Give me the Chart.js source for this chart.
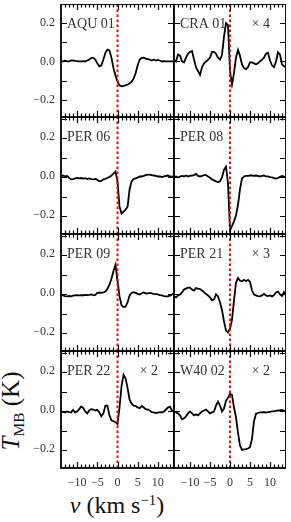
<!DOCTYPE html>
<html lang="en">
<head>
    <meta charset="UTF-8">
    <title>Spectra grid</title>
    <script src="https://cdn.jsdelivr.net/npm/chart.js"></script>
    <style>
        body { margin: 0; background: #fff; }
        #wrap { position: relative; width: 291px; height: 522px; overflow: hidden; }
        #wrap canvas { position: absolute; }
        .title { position: absolute; font-family: 'Liberation Serif', serif; color: #111; white-space: nowrap; }
        .sub { font-size: 0.62em; position: relative; top: 0.3em; }
        .sup { font-size: 0.62em; position: relative; top: -0.55em; }
    </style>
</head>
<body>
<div id="wrap">
    <div class="title" id="ytitle" style="left:11px; top:411px; font-size:25px; transform: translate(-50%, -50%) rotate(-90deg);"><i>T</i><span class="sub">MB</span> (K)</div>
    <div class="title" id="xtitle" style="left:117px; top:505px; font-size:24px; transform: translate(-50%, -50%);"><i>v</i> (km s<span class="sup">&minus;1</span>)</div>
</div>
<script>
    // velocity channels (km/s)
    const vel = [-14, -13.5, -13, -12.5, -12, -11.5, -11, -10.5, -10, -9.5, -9, -8.5, -8, -7.5, -7, -6.5, -6, -5.5, -5,
        -4.5, -4, -3.5, -3, -2.5, -2, -1.5, -1, -0.5, 0, 0.5, 1, 1.5, 2, 2.5, 3, 3.5, 4, 4.5, 5,
        5.5, 6, 6.5, 7, 7.5, 8, 8.5, 9, 9.5, 10, 10.5, 11, 11.5, 12, 12.5, 13, 13.5, 14];

    // T_MB (K), already scaled as plotted
    const aqu01 = [0.0, 0.0, 0.005, 0.0, 0.0, 0.005, 0.005, 0.003, 0.002,
        0.0, 0.0, 0.002, 0.0, 0.005, 0.01, 0.018, 0.02, 0.01, -0.01,
        -0.025, -0.02, 0.01, 0.045, 0.062, 0.058, 0.02, -0.035, -0.075, -0.105,
        -0.125, -0.13, -0.128, -0.125, -0.12, -0.115, -0.105, -0.09, -0.06, -0.02,
        0.01, 0.018, 0.02, 0.015, 0.012, 0.01, 0.005, 0.01, 0.005, 0.008,
        0.005, 0.0, 0.002, 0.0, 0.0, 0.0, 0.0, 0.0];
    const cra01 = [0.005, 0.0, 0.036, 0.03, 0.0, -0.005, 0.02, 0.04, 0.05,
        0.055, 0.01, -0.03, -0.05, -0.07, -0.03, -0.01, 0.0, 0.008, 0.02,
        0.05, 0.05, 0.04, 0.02, 0.01, 0.035, 0.13, 0.2, 0.19, -0.05,
        -0.12, -0.06, 0.02, 0.06, 0.03, -0.015, -0.035, -0.04, -0.03, -0.005,
        -0.005, -0.01, -0.015, -0.01, 0.0, 0.01, 0.02, 0.04, 0.045, 0.005,
        -0.02, -0.03, 0.0, 0.048, 0.036, -0.015, -0.025, -0.03];
    const per06 = [0.005, 0.01, 0.005, 0.008, -0.002, -0.01, -0.008, -0.005, -0.002,
        -0.005, -0.003, -0.006, -0.004, -0.008, -0.005, -0.008, -0.01, -0.008, -0.012,
        -0.02, -0.018, -0.01, -0.008, -0.002, 0.002, 0.01, 0.02, 0.03, -0.02,
        -0.15, -0.185, -0.175, -0.165, -0.15, -0.06, -0.02, -0.008, -0.005, 0.0,
        0.005, 0.005, 0.008, 0.012, 0.015, 0.015, 0.012, 0.01, 0.008, 0.005,
        0.005, 0.002, 0.005, 0.008, 0.01, 0.005, 0.003, 0.008];
    const per08 = [0.003, 0.005, 0.0, 0.005, 0.008, 0.005, 0.01, 0.005, 0.008,
        0.01, 0.012, 0.018, 0.008, 0.005, 0.008, 0.012, 0.012, 0.005, -0.002,
        -0.01, -0.015, -0.02, -0.025, -0.02, 0.0, 0.04, 0.055, -0.03, -0.27,
        -0.25, -0.225, -0.195, -0.14, -0.06, -0.005, 0.005, 0.008, 0.008, 0.01,
        0.01, 0.008, 0.01, 0.008, 0.005, 0.008, 0.01, 0.006, 0.005, 0.002,
        0.0, -0.003, -0.006, -0.003, 0.003, 0.008, 0.005, 0.0];
    const per09 = [0.0, -0.005, -0.008, -0.01, -0.008, -0.01, -0.006, -0.005, -0.004,
        -0.005, -0.003, -0.004, -0.002, -0.003, -0.002, 0.0, -0.004, -0.002, 0.008,
        0.01, 0.008, 0.01, 0.015, 0.028, 0.05, 0.08, 0.12, 0.152, 0.07,
        -0.01, -0.055, -0.065, -0.063, -0.04, -0.005, 0.008, 0.012, 0.008, 0.003,
        0.0, 0.006, 0.01, 0.005, 0.006, 0.008, 0.005, 0.003, 0.002, 0.0,
        -0.003, -0.005, -0.008, -0.01, -0.01, -0.006, 0.0, 0.008];
    const per21 = [-0.01, -0.015, -0.005, 0.0, 0.01, 0.025, 0.03, 0.035, 0.035,
        0.025, 0.02, 0.033, 0.03, 0.028, 0.02, 0.012, 0.002, -0.005, -0.015,
        -0.03, -0.025, 0.0, -0.01, -0.04, -0.08, -0.138, -0.185, -0.195, -0.175,
        -0.13, -0.03, 0.06, 0.085, 0.07, 0.068, 0.075, 0.068, 0.075, 0.065,
        0.02, 0.0, -0.005, -0.008, -0.01, -0.005, 0.003, -0.005, -0.008, -0.005,
        -0.01, -0.003, 0.01, 0.015, 0.0, -0.008, 0.012, -0.005];
    const per22 = [0.0, -0.002, -0.005, 0.0, -0.003, -0.005, 0.008, -0.005, 0.0,
        0.012, 0.025, 0.018, 0.0, -0.01, 0.005, 0.012, 0.01, 0.005, 0.008,
        -0.005, -0.025, -0.01, 0.03, 0.03, -0.02, -0.045, -0.05, -0.055, -0.065,
        0.02, 0.13, 0.188, 0.17, 0.12, 0.06, 0.04, 0.03, 0.028, 0.02,
        0.017, 0.028, 0.02, 0.012, 0.01, 0.005, -0.004, -0.005, -0.008, -0.006,
        -0.004, -0.005, 0.0, 0.01, 0.02, 0.025, 0.005, 0.0];
    const w4002 = [0.0, -0.005, -0.01, -0.02, -0.04, -0.035, -0.025, -0.01, 0.0,
        -0.01, -0.02, -0.015, -0.02, -0.01, 0.0, 0.005, 0.01, 0.0, -0.01,
        -0.005, 0.0, 0.03, 0.05, 0.03, 0.0, 0.015, 0.055, 0.07, 0.09,
        0.085, 0.02, -0.03, -0.11, -0.175, -0.197, -0.195, -0.193, -0.19, -0.183,
        -0.14, -0.05, -0.012, -0.008, -0.005, -0.005, -0.003, -0.006, -0.004, -0.002,
        0.0, 0.0, 0.003, 0.005, 0.005, 0.008, 0.005, 0.0];

    const names = ['AQU 01', 'CRA 01', 'PER 06', 'PER 08', 'PER 09', 'PER 21', 'PER 22', 'W40 02'];
    const factors = ['', '\u00d7 4', '', '', '', '\u00d7 3', '\u00d7 2', '\u00d7 2'];
    const series = [aqu01, cra01, per06, per08, per09, per21, per22, w4002];
    const vLine = 0;   // systemic velocity marker

    const xMin = -14, xMax = 14;
    const yMin = -0.29;
    const yMaxRow = [0.30, 0.31, 0.31, 0.31];

    // panel geometry (px)
    const colLeft = [61, 174];
    const colWidth = [113, 112];
    const rowTop = [4, 117, 234, 351];
    const rowHeight = [113, 117, 117, 117];
    const axisW = 61, axisH = 40;

    const serif = "'Liberation Serif', 'DejaVu Serif', serif";
    const minus = v => (v < 0 ? '\u2212' : '');

    // frame with inward ticks on all four sides, plus panel labels
    const framePlugin = {
        id: 'frame',
        afterDraw(chart, args, opts) {
            const { ctx, chartArea: a, scales } = chart;
            ctx.save();
            ctx.strokeStyle = '#000';
            ctx.lineWidth = 1.2;
            ctx.beginPath();
            for (let v = xMin + 1; v < xMax; v++) {
                const px = Math.round(scales.x.getPixelForValue(v)) + 0.5;
                const len = v % 5 === 0 ? 6 : 3.5;
                ctx.moveTo(px, a.top); ctx.lineTo(px, a.top + len);
                ctx.moveTo(px, a.bottom); ctx.lineTo(px, a.bottom - len);
            }
            for (let k = -2; k <= 3; k++) {
                const t = k / 10;
                if (t <= scales.y.min || t >= scales.y.max) continue;
                const py = Math.round(scales.y.getPixelForValue(t)) + 0.5;
                ctx.moveTo(a.left, py); ctx.lineTo(a.left + 6, py);
                ctx.moveTo(a.right, py); ctx.lineTo(a.right - 6, py);
            }
            ctx.stroke();
            ctx.lineWidth = 1.8;
            ctx.strokeRect(a.left, a.top, a.right - a.left, a.bottom - a.top);

            ctx.fillStyle = '#333';
            ctx.font = '14px ' + serif;
            ctx.textBaseline = 'middle';
            ctx.textAlign = 'left';
            ctx.fillText(opts.name, a.left + 6, a.top + 20);
            if (opts.factor) {
                ctx.textAlign = 'right';
                ctx.fillText(opts.factor, a.right - 16, a.top + 20);
            }
            ctx.restore();
        }
    };

    const wrap = document.getElementById('wrap');

    series.forEach((vals, i) => {
        const col = i % 2, row = Math.floor(i / 2);
        const cv = document.createElement('canvas');
        cv.width = axisW + colWidth[col];
        cv.height = rowHeight[row] + axisH;
        cv.style.left = (colLeft[col] - axisW) + 'px';
        cv.style.top = rowTop[row] + 'px';
        wrap.appendChild(cv);

        new Chart(cv, {
            type: 'line',
            data: {
                datasets: [
                    {
                        data: [{ x: vLine, y: yMin }, { x: vLine, y: yMaxRow[row] }],
                        borderColor: '#ff0000',
                        borderWidth: 2,
                        borderDash: [2.5, 2.5],
                        pointRadius: 0
                    },
                    {
                        data: vel.map((v, k) => ({ x: v, y: vals[k] })),
                        borderColor: '#000',
                        borderWidth: 1.8,
                        pointRadius: 0,
                        tension: 0
                    }
                ]
            },
            options: {
                responsive: false,
                animation: false,
                devicePixelRatio: 1,
                layout: { padding: 0 },
                plugins: {
                    legend: { display: false },
                    tooltip: { enabled: false },
                    frame: { name: names[i], factor: factors[i] }
                },
                scales: {
                    x: {
                        type: 'linear',
                        min: xMin,
                        max: xMax,
                        grid: { display: false, drawTicks: false },
                        border: { display: false },
                        ticks: {
                            display: row === 3,
                            stepSize: 5,
                            includeBounds: false,
                            padding: 8,
                            color: '#333',
                            font: { family: serif, size: 12 },
                            callback: v => minus(v) + Math.abs(v)
                        },
                        afterFit: s => { s.height = axisH; s.paddingLeft = 0; s.paddingRight = 0; }
                    },
                    y: {
                        min: yMin,
                        max: yMaxRow[row],
                        grid: { display: false, drawTicks: false },
                        border: { display: false },
                        ticks: {
                            display: col === 0,
                            stepSize: 0.1,
                            includeBounds: false,
                            autoSkip: false,
                            padding: 6,
                            color: '#333',
                            font: { family: serif, size: 12 },
                            callback: v => {
                                const k = Math.round(v * 10);
                                if (k % 2 !== 0) return '';
                                return minus(k) + Math.abs(k / 10).toFixed(1);
                            }
                        },
                        afterFit: s => { s.width = axisW; s.paddingTop = 0; s.paddingBottom = 0; }
                    }
                }
            },
            plugins: [framePlugin]
        });
    });
</script>
</body>
</html>
